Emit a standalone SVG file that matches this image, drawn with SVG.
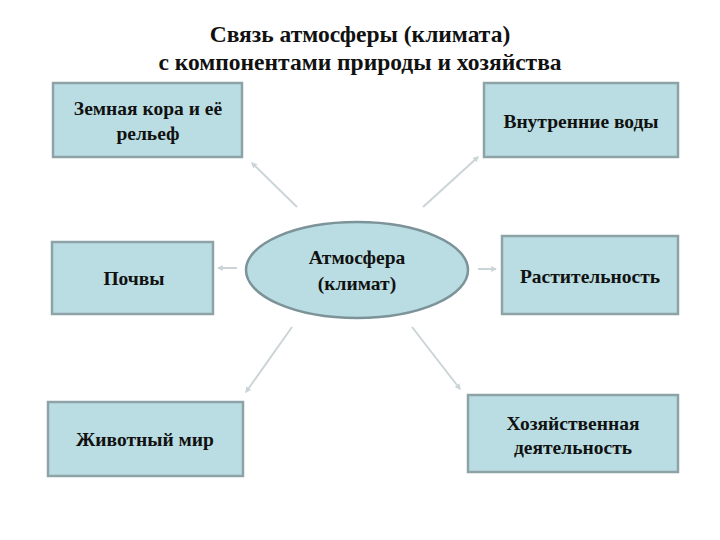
<svg xmlns="http://www.w3.org/2000/svg" width="720" height="540" viewBox="0 0 720 540">
<style>
.box{fill:#b9dde2;stroke:#8ea3a8;stroke-width:2.5}
.ell{fill:#b9dde2;stroke:#7b9399;stroke-width:2.5}
.t{font-family:"Liberation Serif","Times New Roman",serif;font-weight:bold;font-size:19.5px;fill:#111;text-anchor:middle}
.title{font-family:"Liberation Serif","Times New Roman",serif;font-weight:bold;font-size:23.5px;fill:#111;text-anchor:middle}
.c{stroke:#cbd5d8;stroke-width:2;fill:none;marker-end:url(#ah)}
</style>
<defs>
<marker id="ah" viewBox="0 0 10 10" refX="8" refY="5" markerWidth="3" markerHeight="3" orient="auto">
<path d="M0,0 L10,5 L0,10 z" fill="#cbd5d8"/>
</marker>
</defs>
<rect width="720" height="540" fill="#ffffff"/>
<g id="title">
<text class="title" x="360" y="42">Связь атмосферы (климата)</text>
<text class="title" x="360" y="70">с компонентами природы и хозяйства</text>
</g>
<g id="connectors">
<line class="c" x1="297" y1="207" x2="252" y2="163"/>
<line class="c" x1="423" y1="207" x2="478" y2="157"/>
<line class="c" x1="237" y1="268" x2="218" y2="268"/>
<line class="c" x1="478" y1="269" x2="496" y2="269"/>
<line class="c" x1="292" y1="327" x2="246" y2="392"/>
<line class="c" x1="412" y1="327" x2="460" y2="389"/>
</g>
<g id="n-kora">
<rect class="box" x="53" y="83" width="189" height="74"/>
<text class="t" x="148" y="115">Земная кора и её</text>
<text class="t" x="148" y="140">рельеф</text>
</g>
<g id="n-vody">
<rect class="box" x="484" y="83" width="194" height="74"/>
<text class="t" x="581" y="128">Внутренние воды</text>
</g>
<g id="n-atm">
<ellipse class="ell" cx="357" cy="270" rx="111" ry="48"/>
<text class="t" x="357" y="264">Атмосфера</text>
<text class="t" x="357" y="290">(климат)</text>
</g>
<g id="n-pochvy">
<rect class="box" x="52" y="242" width="161" height="72"/>
<text class="t" x="134" y="285">Почвы</text>
</g>
<g id="n-rast">
<rect class="box" x="502" y="236" width="176" height="78"/>
<text class="t" x="590" y="283">Растительность</text>
</g>
<g id="n-zhiv">
<rect class="box" x="48" y="402" width="195" height="74"/>
<text class="t" x="145" y="446">Животный мир</text>
</g>
<g id="n-hoz">
<rect class="box" x="468" y="395" width="210" height="77"/>
<text class="t" x="573" y="430">Хозяйственная</text>
<text class="t" x="573" y="454">деятельность</text>
</g>
</svg>
